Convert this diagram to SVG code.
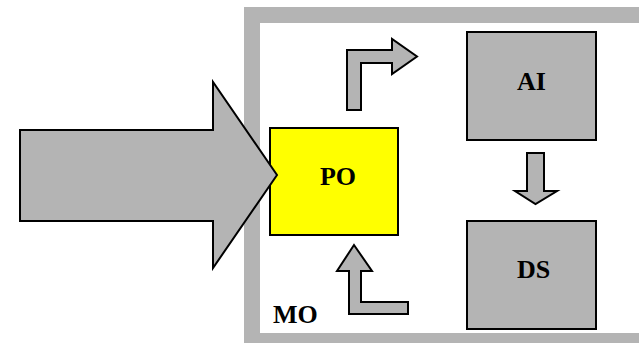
<svg xmlns="http://www.w3.org/2000/svg" width="639" height="343" viewBox="0 0 639 343">
<style>
.arrow{fill:#b4b4b4;stroke:#000;stroke-width:2;stroke-linejoin:miter}
.box{stroke:#000;stroke-width:2}
.lbl{font-family:"Liberation Serif","Times New Roman",serif;font-weight:bold;font-size:26px;fill:#000}
</style>
<rect width="639" height="343" fill="#fff"/>
<g id="MO">
<rect x="252" y="15" width="395" height="326" fill="#fff" stroke="#b4b4b4" stroke-width="16"/>
<text class="lbl" x="273" y="323">MO</text>
</g>
<g id="PO">
<rect class="box" x="270" y="128" width="128" height="107" fill="#ffff00"/>
<text class="lbl" x="338" y="185" text-anchor="middle">PO</text>
</g>
<g id="AI">
<rect class="box" x="467" y="32" width="129" height="108" fill="#b4b4b4"/>
<text class="lbl" x="531.5" y="90" text-anchor="middle">AI</text>
</g>
<g id="DS">
<rect class="box" x="467" y="221" width="129" height="108" fill="#b4b4b4"/>
<text class="lbl" x="533.5" y="278" text-anchor="middle">DS</text>
</g>
<g id="connectors">
<path class="arrow" d="M20,130 H213 V82 L277,175 L213,268 V221 H20 Z"/>
<path class="arrow" d="M347,110 V50 H392 V39 L417,56.5 L392,74 V63 H361 V110 Z"/>
<path class="arrow" d="M354,245 L372,271 H361 V302 H408 V314 H349 V271 H337 Z"/>
<path class="arrow" d="M527,153 H544 V191 H557 L535.5,204 L515,191 H527 Z"/>
</g>
</svg>
